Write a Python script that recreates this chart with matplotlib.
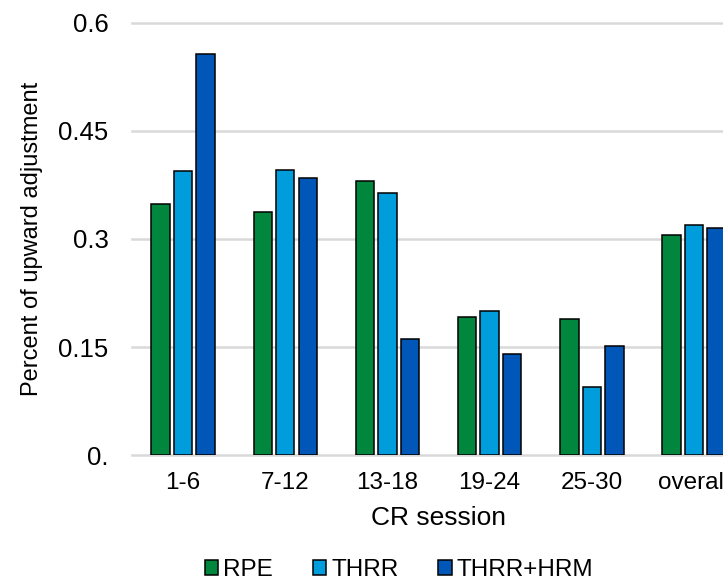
import matplotlib.pyplot as plt
import numpy as np
from matplotlib.patches import Patch

plt.rcParams['font.family'] = ['Liberation Sans', 'DejaVu Sans']

categories = ["1-6", "7-12", "13-18", "19-24", "25-30", "overall"]
rpe = [0.349, 0.338, 0.380, 0.191, 0.189, 0.305]
thrr = [0.394, 0.396, 0.364, 0.200, 0.094, 0.319]
thrr_hrm = [0.557, 0.385, 0.161, 0.140, 0.152, 0.315]
series_names = ["RPE", "THRR", "THRR+HRM"]
colors = ["#00873D", "#009DDC", "#0057B8"]
yticks = [0, 0.15, 0.3, 0.45, 0.6]
ytick_labels = ["0.", "0.15", "0.3", "0.45", "0.6"]

fig = plt.figure(figsize=(7.23, 5.82), dpi=100)
# the original chart is cropped at the right, so the axes run past the figure edge
ax = fig.add_axes([0.1826, 0.2182, 0.848, 0.7423])

x = np.arange(len(categories))
width = 0.18
offsets = [-0.22, 0, 0.22]
for vals, off, c in zip([rpe, thrr, thrr_hrm], offsets, colors):
    ax.bar(x + off, vals, width, color=c, edgecolor="black", linewidth=1.1, zorder=3)

# gridlines
for t in yticks:
    ax.axhline(t, color="#D9D9D9", linewidth=1.8, zorder=1, clip_on=False)

ax.set_xlim(-0.5, 5.5)
ax.set_ylim(0, 0.6)
ax.set_yticks(yticks)
ax.set_yticklabels(ytick_labels, fontsize=18.5)
ax.set_xticks(x)
ax.set_xticklabels(categories, fontsize=17.5)
ax.tick_params(axis="y", length=0, pad=17)
ax.tick_params(axis="x", length=0, pad=12)
for s in ax.spines.values():
    s.set_visible(False)

ax.set_ylabel("Percent of upward adjustment", fontsize=17, labelpad=11)
ax.set_xlabel("CR session", fontsize=19, labelpad=9)

handles = [Patch(facecolor=c, edgecolor="black", linewidth=1.1) for c in colors]
fig.legend(handles, series_names, loc="center", bbox_to_anchor=(399 / 723, 1 - 570 / 582),
           ncol=3, frameon=False, fontsize=17.5, handlelength=0.55, handleheight=0.55,
           handletextpad=0.2, columnspacing=1.65, borderaxespad=0)

fig.savefig("out.png", dpi=100)
